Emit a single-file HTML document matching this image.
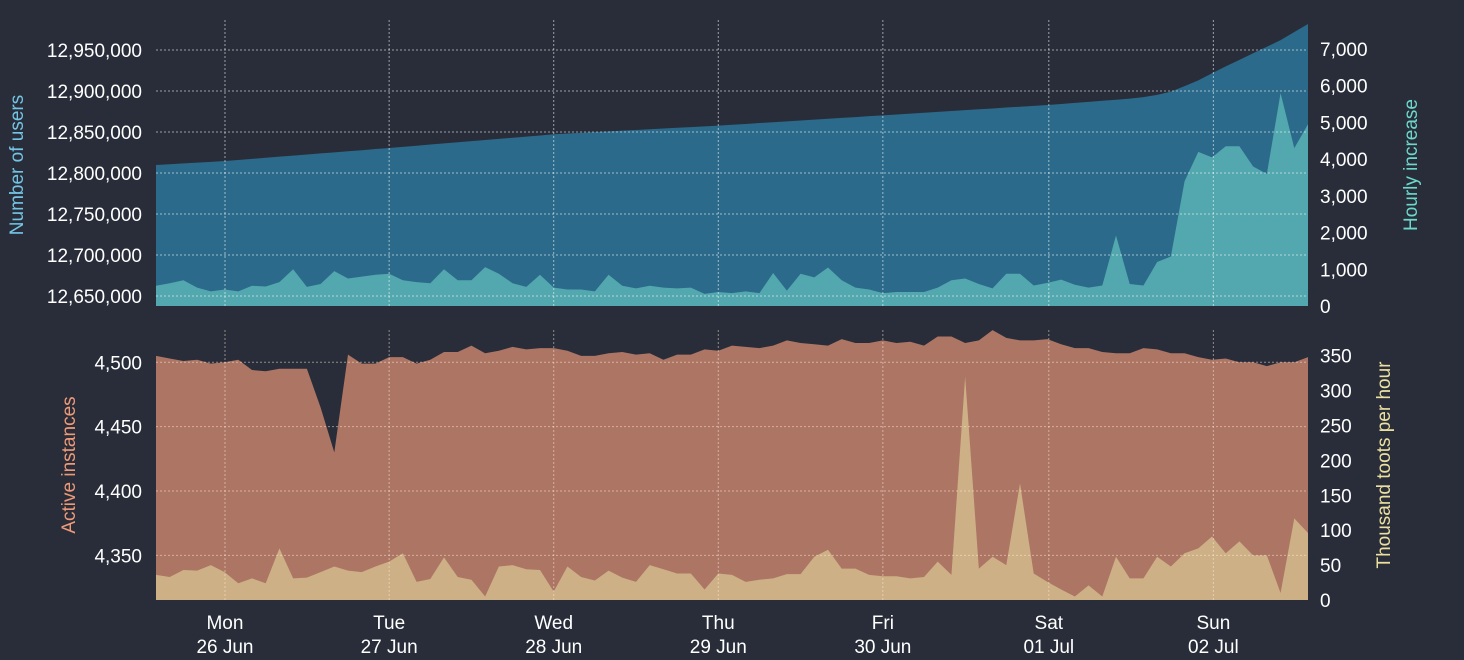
<!DOCTYPE html>
<html><head><meta charset="utf-8"><style>
html,body{margin:0;padding:0;background:#282d39;}
svg{display:block;font-family:"Liberation Sans",sans-serif;}
</style></head><body>
<svg id="chart" width="1464" height="660" viewBox="0 0 1464 660" xmlns="http://www.w3.org/2000/svg">
<rect width="1464" height="660" fill="#282d39"/>
<g id="topPanel"></g>
<g id="bottomPanel"></g>
<g id="axesGroup"></g>
</svg>
<script>
const dayLabels = ["Mon","Tue","Wed","Thu","Fri","Sat","Sun"];
const dateLabels = ["26 Jun","27 Jun","28 Jun","29 Jun","30 Jun","01 Jul","02 Jul"];
const dayTickIndex = [5.03,17,29,41,53,65.1,77.1];
const usersTicks = [12650000,12700000,12750000,12800000,12850000,12900000,12950000];
const hourlyTicks = [0,1000,2000,3000,4000,5000,6000,7000];
const instTicks = [4350,4400,4450,4500];
const tootTicks = [0,50,100,150,200,250,300,350];
const users = [12809.8,12810.7,12811.7,12812.6,12813.6,12814.6,
12815.9,12817.2,12818.6,12819.9,12821.2,12822.5,12823.9,12825.2,12826.5,12827.8,12829.2,12830.5,
12831.9,12833.3,12834.7,12836.1,12837.5,12838.9,12840.2,12841.6,12843.0,12844.4,12845.8,12847.2,
12848.1,12849.0,12849.8,12850.7,12851.6,12852.5,12853.3,12854.2,12855.1,12856.0,12856.8,12857.7,
12858.8,12859.8,12860.9,12861.9,12863.0,12864.0,12865.1,12866.1,12867.2,12868.2,12869.3,12870.3,
12871.4,12872.4,12873.5,12874.5,12875.6,12876.6,12877.7,12878.7,12879.8,12880.8,12881.9,12882.9,
12884.2,12885.5,12886.8,12888.1,12889.4,12890.7,12892.5,12895.2,12899.3,
12906,12913,12921.6,12930,12938,12946,12954,12962,12972,12981.7];
const hourly = [550,620,700,500,400,450,400,550,530,650,1000,520,600,950,750,800,850,880,700,650,
620,1000,700,700,1060,880,620,520,850,500,450,450,400,850,550,480,550,500,480,500,
330,380,350,400,350,900,420,880,780,1050,700,500,450,350,380,380,380,500,700,750,
600,480,880,880,560,630,720,580,500,560,1920,600,560,1200,1350,3400,4200,4050,4350,4350,
3800,3600,5800,4300,4950];
const instances = [4505,4503,4501,4502,4499,4500,4502,4494,4493,4495,4495,4495,4465,4430,4506,4499,4499,4504,4504,4499,
4502,4508,4508,4513,4507,4509,4512,4510,4511,4511,4509,4505,4505,4507,4508,4506,4507,4502,4506,4506,
4510,4509,4513,4512,4511,4513,4517,4515,4514,4513,4518,4515,4515,4517,4515,4516,4513,4520,4520,4515,
4517,4525,4519,4517,4517,4518,4514,4511,4511,4508,4507,4507,4511,4510,4507,4507,4504,4502,4503,4500,
4500,4497,4500,4500,4504];
const toots = [36,33,43,42,50,40,24,31,24,74,31,32,40,48,42,40,48,55,67,26,
30,61,33,29,5,48,50,44,43,12,48,33,28,42,32,26,50,44,38,38,
15,38,36,26,29,31,37,37,62,72,45,45,36,34,34,31,33,55,36,320,
45,62,50,167,38,26,15,5,21,5,62,31,31,62,48,67,74,91,67,84,
64,64,10,117,96];

const NS="http://www.w3.org/2000/svg";
const X0=156, X1=1308;
function xs(i){return X0+i*(X1-X0)/(users.length-1);}
const PT={top:20,bot:306}, PB={top:320,bot:600};
function yUsers(v){return 306-(v-12637800)*41/50000;}
function yHourly(v){return 306-v*0.03671;}
function yInst(v){return 362.3-(v-4500)*1.287;}
function yToot(v){return 600-v*0.698;}
function mk(tag,attrs,parent){const e=document.createElementNS(NS,tag);for(const k in attrs)e.setAttribute(k,attrs[k]);parent.appendChild(e);return e;}
function area(arr,fx,base,parent,fill,name){
  let d="M"+xs(0)+","+base;
  arr.forEach((v,i)=>{d+=" L"+xs(i).toFixed(2)+","+fx(v).toFixed(2);});
  d+=" L"+xs(arr.length-1)+","+base+" Z";
  const p=mk("path",{d:d,fill:fill},parent);
  
  
}
const gTop=document.getElementById("topPanel"), gBottom=document.getElementById("bottomPanel"), gAxes=document.getElementById("axesGroup");
area(users.map(v=>v*1000),yUsers,306,gTop,"#2b6a8a","users-area");
area(hourly,yHourly,306,gTop,"#52a8ae","hourly-increase-area");
area(instances,yInst,600,gBottom,"#ad7564","active-instances-area");
area(toots,yToot,600,gBottom,"#cdb086","toots-area");

usersTicks.forEach(v=>{const y=yUsers(v);
  const l=mk("line",{x1:X0,x2:X1,y1:y,y2:y,stroke:"rgba(255,255,255,0.55)","stroke-width":1,"stroke-dasharray":"2,2"},gAxes);
  
  
  const t=mk("text",{x:142,y:y+7,"text-anchor":"end","font-size":19,fill:"#fff"},gAxes);
  t.textContent=v.toLocaleString("en-US");
  
  
});
hourlyTicks.forEach(v=>{const y=yHourly(v);
  const t=mk("text",{x:1320,y:y+7,"font-size":19,fill:"#fff"},gAxes);
  t.textContent=v.toLocaleString("en-US");
  
  
});
instTicks.forEach(v=>{const y=yInst(v);
  const l=mk("line",{x1:X0,x2:X1,y1:y,y2:y,stroke:"rgba(255,235,220,0.5)","stroke-width":1,"stroke-dasharray":"2,2"},gAxes);
  
  
  const t=mk("text",{x:142,y:y+7,"text-anchor":"end","font-size":19,fill:"#fff"},gAxes);
  t.textContent=v.toLocaleString("en-US");
  
  
});
tootTicks.forEach(v=>{const y=yToot(v);
  const t=mk("text",{x:1320,y:y+7,"font-size":19,fill:"#fff"},gAxes);
  t.textContent=String(v);
  
  
});
dayTickIndex.forEach((ix,k)=>{const x=xs(ix);
  const l1=mk("line",{x1:x,x2:x,y1:PT.top,y2:PT.bot,stroke:"rgba(255,255,255,0.55)","stroke-width":1,"stroke-dasharray":"2,2"},gAxes);
  
  
  const l2=mk("line",{x1:x,x2:x,y1:PB.top+10,y2:PB.bot,stroke:"rgba(255,235,220,0.5)","stroke-width":1,"stroke-dasharray":"2,2"},gAxes);
  
  
  const t1=mk("text",{x:x,y:629,"text-anchor":"middle","font-size":19,fill:"#fff"},gAxes);
  t1.textContent=dayLabels[k];
  
  
  const t2=mk("text",{x:x,y:653,"text-anchor":"middle","font-size":19,fill:"#fff"},gAxes);
  t2.textContent=dateLabels[k];
  
  
});
function title(txt,x,y,color,name){
  const t=mk("text",{x:x,y:y,"text-anchor":"middle","font-size":19,fill:color,transform:"rotate(-90 "+x+" "+y+")"},gAxes);
  t.textContent=txt;
  
  
}
title("Number of users",23,165,"#74c4e6","users-axis-title");
title("Hourly increase",1417,165,"#6cd8cc","hourly-axis-title");
title("Active instances",75,465,"#ee9a78","instances-axis-title");
title("Thousand toots per hour",1390,465,"#ebe0a0","toots-axis-title");
</script>
</body></html>
